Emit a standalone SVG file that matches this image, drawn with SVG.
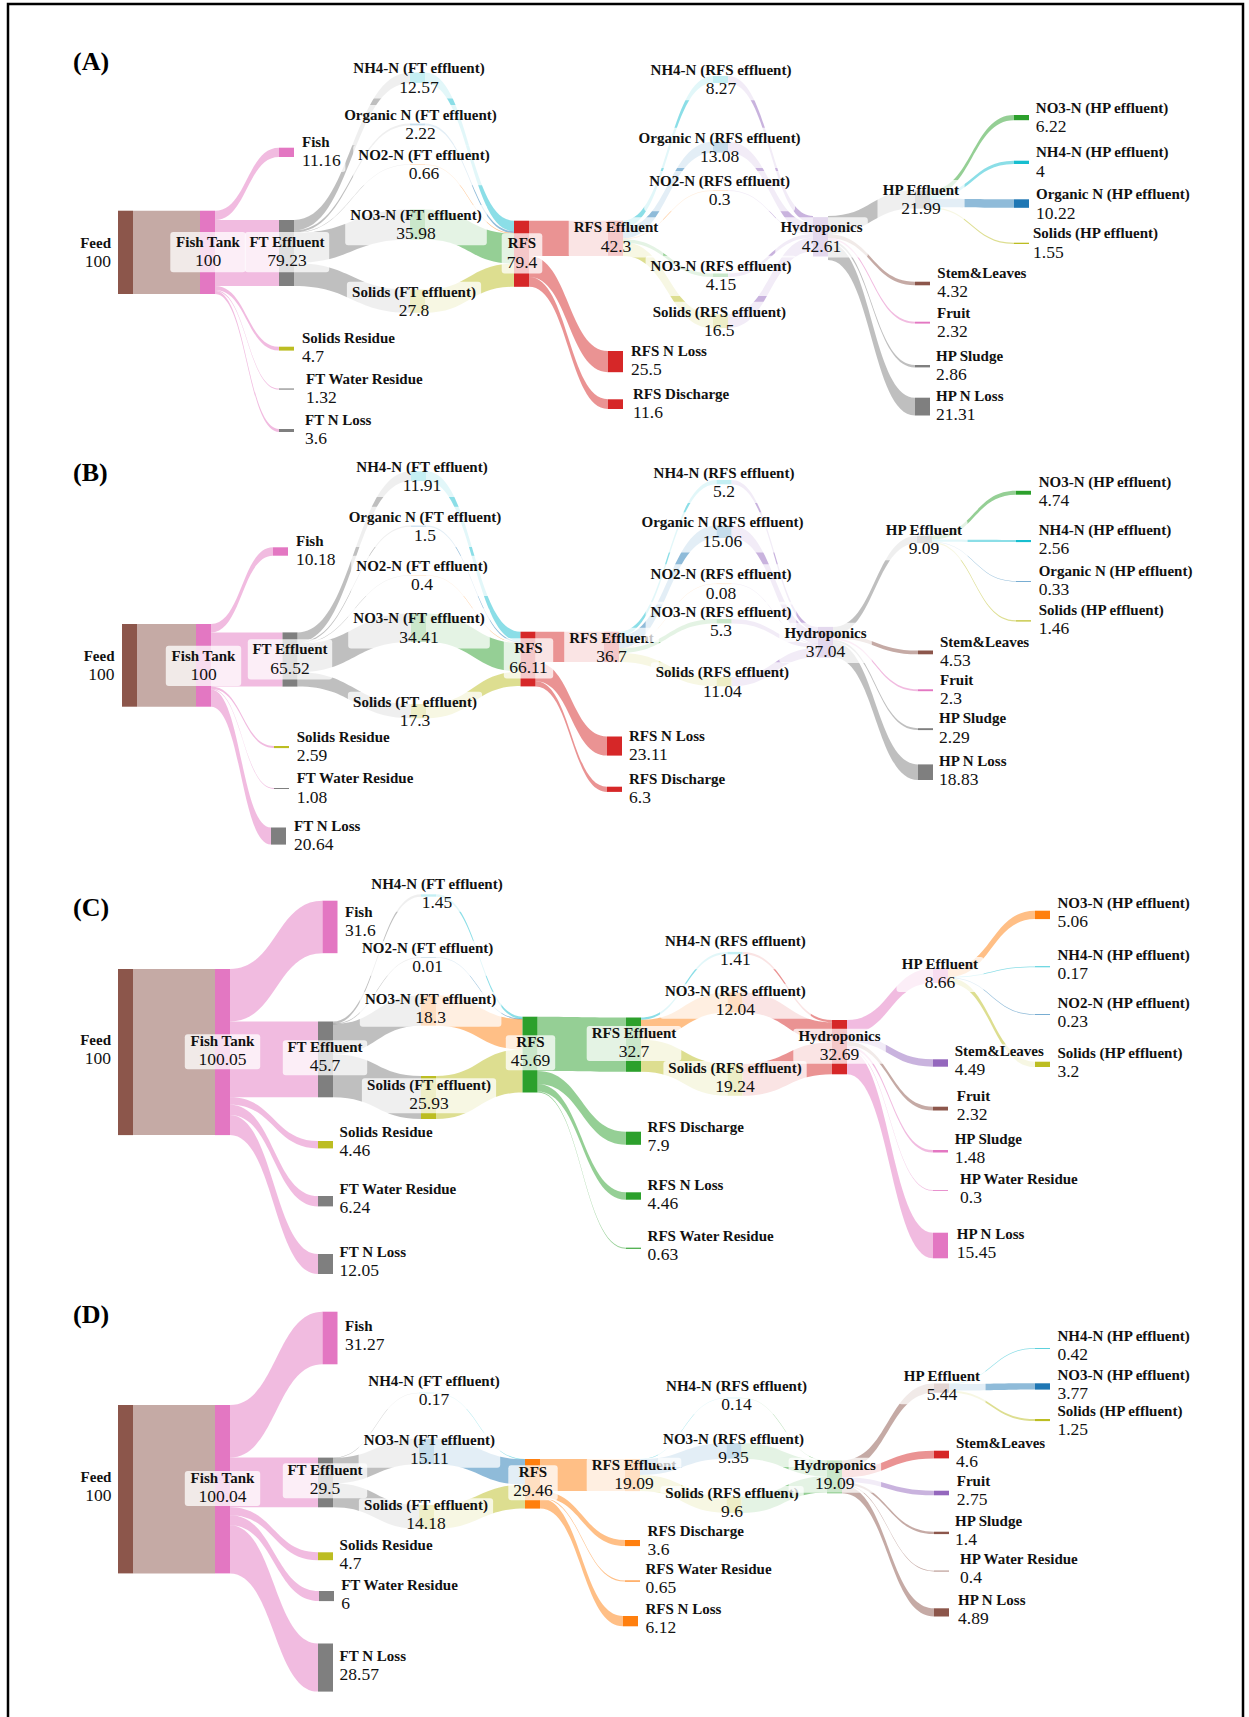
<svg xmlns="http://www.w3.org/2000/svg" width="1249" height="1717" viewBox="0 0 1249 1717">
<style>
.br{fill:#8c564b}.pk{fill:#e377c2}.gy{fill:#7f7f7f}.cy{fill:#17becf}.bl{fill:#1f77b4}.or{fill:#ff7f0e}.gn{fill:#2ca02c}.ol{fill:#bcbd22}.rd{fill:#d62728}.pu{fill:#9467bd}
.links path{fill-opacity:.5}
.bx{fill:#fff;fill-opacity:.75}
text{font-family:"Liberation Serif","Times New Roman",serif;fill:#111}
.lb{font-weight:bold;font-size:15px}
.vl{font-weight:normal;font-size:17.5px}
.m{text-anchor:middle}.e{text-anchor:end}
.pl{font-weight:bold;font-size:26px;fill:#000}
</style>
<rect x="0" y="0" width="1249" height="1717" fill="#fff"/>
<rect x="8" y="4" width="1235" height="1730" fill="none" stroke="#000" stroke-width="2.5"/>

<!-- ================= PANEL A ================= -->
<g id="panelA">
<text class="pl" x="73" y="70">(A)</text>
<g id="A-links" class="links">
<path class="br" d="M133,210.7H200V294H133Z"/>
<path class="pk" d="M215,210.7C247,210.7 247,147.7 279,147.7L279,157C247,157 247,220 215,220Z"/>
<path class="pk" d="M215,220H279V286H215Z"/>
<path class="pk" d="M215,286C247,286 247,346.7 279,346.7L279,350.6C247,350.6 247,289.9 215,289.9Z"/>
<path class="pk" d="M215,289.9C247,289.9 247,388.5 279,388.5L279,389.6C247,389.6 247,291 215,291Z"/>
<path class="pk" d="M215,291C247,291 247,429 279,429L279,432C247,432 247,294 215,294Z"/>
<path class="gy" d="M294,220C352,220 352,72.5 410,72.5L410,83C352,83 352,230.5 294,230.5Z"/>
<path class="gy" d="M294,230.5C352,230.5 352,123.6 410,123.6L410,125.4C352,125.4 352,232.4 294,232.4Z"/>
<path class="gy" d="M294,232.4C352,232.4 352,164.2 410,164.2L410,164.8C352,164.8 352,232.9 294,232.9Z"/>
<path class="gy" d="M294,232.9C352,232.9 352,209.5 410,209.5L410,239.5C352,239.5 352,262.9 294,262.9Z"/>
<path class="gy" d="M294,262.9C352,262.9 352,289.6 410,289.6L410,312.8C352,312.8 352,286 294,286Z"/>
<path class="cy" d="M425,72.5C469.5,72.5 469.5,220.7 514,220.7L514,231.2C469.5,231.2 469.5,83 425,83Z"/>
<path class="bl" d="M425,123.6C469.5,123.6 469.5,231.2 514,231.2L514,233C469.5,233 469.5,125.4 425,125.4Z"/>
<path class="or" d="M425,164.2C469.5,164.2 469.5,233 514,233L514,233.8C469.5,233.8 469.5,165 425,165Z"/>
<path class="gn" d="M425,209.5C469.5,209.5 469.5,233.6 514,233.6L514,263.6C469.5,263.6 469.5,239.5 425,239.5Z"/>
<path class="ol" d="M425,289.6C469.5,289.6 469.5,263.6 514,263.6L514,286.8C469.5,286.8 469.5,312.8 425,312.8Z"/>
<path class="rd" d="M529,220.7H608V255.9H529Z"/>
<path class="rd" d="M529,255.9C568.5,255.9 568.5,351 608,351L608,372.2C568.5,372.2 568.5,277.1 529,277.1Z"/>
<path class="rd" d="M529,277.1C568.5,277.1 568.5,399.3 608,399.3L608,409C568.5,409 568.5,286.8 529,286.8Z"/>
<path class="cy" d="M623,220.7C668,220.7 668,76 713,76L713,83C668,83 668,227.6 623,227.6Z"/>
<path class="bl" d="M623,227.6C668,227.6 668,141.8 713,141.8L713,152.7C668,152.7 668,238.5 623,238.5Z"/>
<path class="or" d="M623,238.5C668,238.5 668,190.3 713,190.3L713,191C668,191 668,239.2 623,239.2Z"/>
<path class="gn" d="M623,239.2C668,239.2 668,273.5 713,273.5L713,277C668,277 668,242.7 623,242.7Z"/>
<path class="ol" d="M623,242.2C668,242.2 668,314.3 713,314.3L713,328.1C668,328.1 668,255.9 623,255.9Z"/>
<path class="pu" d="M728,76C770.5,76 770.5,216 813,216L813,223C770.5,223 770.5,83 728,83Z"/>
<path class="pu" d="M728,141.8C770.5,141.8 770.5,223 813,223L813,233.9C770.5,233.9 770.5,152.7 728,152.7Z"/>
<path class="pu" d="M728,190.3C770.5,190.3 770.5,233.9 813,233.9L813,234.6C770.5,234.6 770.5,191 728,191Z"/>
<path class="pu" d="M728,273.5C770.5,273.5 770.5,234.2 813,234.2L813,237.7C770.5,237.7 770.5,277 728,277Z"/>
<path class="pu" d="M728,314.3C770.5,314.3 770.5,237.7 813,237.7L813,251.5C770.5,251.5 770.5,328.1 728,328.1Z"/>
<path class="gy" d="M828,216C871.5,216 871.5,190.3 915,190.3L915,208.6C871.5,208.6 871.5,234.3 828,234.3Z"/>
<path class="br" d="M828,234.3C871.5,234.3 871.5,281.7 915,281.7L915,285.3C871.5,285.3 871.5,237.9 828,237.9Z"/>
<path class="pk" d="M828,237.9C871.5,237.9 871.5,321.7 915,321.7L915,323.6C871.5,323.6 871.5,239.8 828,239.8Z"/>
<path class="gy" d="M828,239.8C871.5,239.8 871.5,365 915,365L915,367.4C871.5,367.4 871.5,242.2 828,242.2Z"/>
<path class="gy" d="M828,242.2C871.5,242.2 871.5,397.7 915,397.7L915,415.5C871.5,415.5 871.5,260 828,260Z"/>
<path class="gn" d="M930,190.3C972,190.3 972,115 1014,115L1014,120.2C972,120.2 972,195.5 930,195.5Z"/>
<path class="cy" d="M930,195.5C972,195.5 972,160.7 1014,160.7L1014,164C972,164 972,198.8 930,198.8Z"/>
<path class="bl" d="M930,198.8C972,198.8 972,199.3 1014,199.3L1014,207.8C972,207.8 972,207.3 930,207.3Z"/>
<path class="ol" d="M930,207.3C972,207.3 972,242.7 1014,242.7L1014,244C972,244 972,208.6 930,208.6Z"/>
</g>
<g id="A-feed"><rect class="br" x="118" y="210.7" width="15" height="83.3"/><rect class="bx" x="76.2" y="232.5" width="38.8" height="40.2" rx="3"/><text class="e" x="111" y="247.5"><tspan class="lb">Feed</tspan><tspan class="vl" x="111" y="266.7">100</tspan></text></g>
<g id="A-fishtank"><rect class="pk" x="200" y="210.7" width="15" height="83.3"/><rect class="bx" x="170.3" y="232" width="75.4" height="40.2" rx="3"/><text class="m" x="208" y="247"><tspan class="lb">Fish Tank</tspan><tspan class="vl" x="208" y="266.2">100</tspan></text></g>
<g id="A-fish"><rect class="pk" x="279" y="147.7" width="15" height="9.3"/><rect class="bx" x="298" y="131.7" width="47.4" height="40.2" rx="3"/><text x="302" y="146.7"><tspan class="lb">Fish</tspan><tspan class="vl" x="302" y="165.9">11.16</tspan></text></g>
<g id="A-fteff"><rect class="gy" x="279" y="220" width="15" height="66"/><rect class="bx" x="244.8" y="232" width="84.4" height="40.2" rx="3"/><text class="m" x="287" y="247"><tspan class="lb">FT Effluent</tspan><tspan class="vl" x="287" y="266.2">79.23</tspan></text></g>
<g id="A-solres"><rect class="ol" x="279" y="346.7" width="15" height="3.9"/><rect class="bx" x="298" y="327.7" width="100.9" height="40.2" rx="3"/><text x="302" y="342.7"><tspan class="lb">Solids Residue</tspan><tspan class="vl" x="302" y="361.9">4.7</tspan></text></g>
<g id="A-ftwater"><rect class="gy" x="279" y="388.5" width="15" height="1.1"/><rect class="bx" x="302" y="369" width="126.3" height="40.2" rx="3"/><text x="306" y="384"><tspan class="lb">FT Water Residue</tspan><tspan class="vl" x="306" y="403.2">1.32</tspan></text></g>
<g id="A-ftnloss"><rect class="gy" x="279" y="429" width="15" height="3"/><rect class="bx" x="301" y="410" width="74.7" height="40.2" rx="3"/><text x="305" y="425"><tspan class="lb">FT N Loss</tspan><tspan class="vl" x="305" y="444.2">3.6</tspan></text></g>
<g id="A-nh4ft"><rect class="cy" x="410" y="72.5" width="15" height="10.5"/><rect class="bx" x="348.2" y="58.3" width="141.6" height="40.2" rx="3"/><text class="m" x="419" y="73.3"><tspan class="lb">NH4-N (FT effluent)</tspan><tspan class="vl" x="419" y="92.5">12.57</tspan></text></g>
<g id="A-orgft"><rect class="bl" x="410" y="123.6" width="15" height="1.8"/><rect class="bx" x="339" y="105" width="162.9" height="40.2" rx="3"/><text class="m" x="420.5" y="120"><tspan class="lb">Organic N (FT effluent)</tspan><tspan class="vl" x="420.5" y="139.2">2.22</tspan></text></g>
<g id="A-no2ft"><rect class="or" x="410" y="164.2" width="15" height="0.8"/><rect class="bx" x="353.2" y="145" width="141.6" height="40.2" rx="3"/><text class="m" x="424" y="160"><tspan class="lb">NO2-N (FT effluent)</tspan><tspan class="vl" x="424" y="179.2">0.66</tspan></text></g>
<g id="A-no3ft"><rect class="gn" x="410" y="209.5" width="15" height="30"/><rect class="bx" x="345.2" y="205" width="141.6" height="40.2" rx="3"/><text class="m" x="416" y="220"><tspan class="lb">NO3-N (FT effluent)</tspan><tspan class="vl" x="416" y="239.2">35.98</tspan></text></g>
<g id="A-solft"><rect class="ol" x="410" y="289.6" width="15" height="23.2"/><rect class="bx" x="346.9" y="281.7" width="134.2" height="40.2" rx="3"/><text class="m" x="414" y="296.7"><tspan class="lb">Solids (FT effluent)</tspan><tspan class="vl" x="414" y="315.9">27.8</tspan></text></g>
<g id="A-rfs"><rect class="rd" x="514" y="220.7" width="15" height="66.1"/><rect class="bx" x="501.7" y="233.3" width="40.6" height="40.2" rx="3"/><text class="m" x="522" y="248.3"><tspan class="lb">RFS</tspan><tspan class="vl" x="522" y="267.5">79.4</tspan></text></g>
<g id="A-rfseff"><rect class="rd" x="608" y="220.7" width="15" height="35.2"/><rect class="bx" x="568.7" y="217.3" width="94.6" height="40.2" rx="3"/><text class="m" x="616" y="232.3"><tspan class="lb">RFS Effluent</tspan><tspan class="vl" x="616" y="251.5">42.3</tspan></text></g>
<g id="A-rfsnloss"><rect class="rd" x="608" y="351" width="15" height="21.2"/><rect class="bx" x="627" y="341" width="83.8" height="40.2" rx="3"/><text x="631" y="356"><tspan class="lb">RFS N Loss</tspan><tspan class="vl" x="631" y="375.2">25.5</tspan></text></g>
<g id="A-rfsdis"><rect class="rd" x="608" y="399.3" width="15" height="9.7"/><rect class="bx" x="629" y="384" width="104.2" height="40.2" rx="3"/><text x="633" y="399"><tspan class="lb">RFS Discharge</tspan><tspan class="vl" x="633" y="418.2">11.6</tspan></text></g>
<g id="A-nh4rfs"><rect class="cy" x="713" y="76" width="15" height="7"/><rect class="bx" x="645.6" y="60" width="150.8" height="40.2" rx="3"/><text class="m" x="721" y="75"><tspan class="lb">NH4-N (RFS effluent)</tspan><tspan class="vl" x="721" y="94.2">8.27</tspan></text></g>
<g id="A-orgrfs"><rect class="bl" x="713" y="141.8" width="15" height="10.9"/><rect class="bx" x="633.6" y="127.7" width="172" height="40.2" rx="3"/><text class="m" x="719.6" y="142.7"><tspan class="lb">Organic N (RFS effluent)</tspan><tspan class="vl" x="719.6" y="161.9">13.08</tspan></text></g>
<g id="A-no2rfs"><rect class="or" x="713" y="190.3" width="15" height="0.7"/><rect class="bx" x="644.2" y="171" width="150.8" height="40.2" rx="3"/><text class="m" x="719.6" y="186"><tspan class="lb">NO2-N (RFS effluent)</tspan><tspan class="vl" x="719.6" y="205.2">0.3</tspan></text></g>
<g id="A-no3rfs"><rect class="gn" x="713" y="273.5" width="15" height="3.5"/><rect class="bx" x="645.6" y="255.7" width="150.8" height="40.2" rx="3"/><text class="m" x="721" y="270.7"><tspan class="lb">NO3-N (RFS effluent)</tspan><tspan class="vl" x="721" y="289.9">4.15</tspan></text></g>
<g id="A-solrfs"><rect class="ol" x="713" y="314.3" width="15" height="13.8"/><rect class="bx" x="647.7" y="301.7" width="143.3" height="40.2" rx="3"/><text class="m" x="719.3" y="316.7"><tspan class="lb">Solids (RFS effluent)</tspan><tspan class="vl" x="719.3" y="335.9">16.5</tspan></text></g>
<g id="A-hydro"><rect class="pu" x="813" y="217.5" width="15" height="39"/><rect class="bx" x="775.3" y="217.3" width="92.5" height="40.2" rx="3"/><text class="m" x="821.5" y="232.3"><tspan class="lb">Hydroponics</tspan><tspan class="vl" x="821.5" y="251.5">42.61</tspan></text></g>
<g id="A-hpeff"><rect class="gy" x="915" y="190.3" width="15" height="18.3"/><rect class="bx" x="877.5" y="180" width="87.1" height="40.2" rx="3"/><text class="m" x="921" y="195"><tspan class="lb">HP Effluent</tspan><tspan class="vl" x="921" y="214.2">21.99</tspan></text></g>
<g id="A-stem"><rect class="br" x="915" y="281.7" width="15" height="3.6"/><rect class="bx" x="933.3" y="262.7" width="103.1" height="40.2" rx="3"/><text x="937.3" y="277.7"><tspan class="lb">Stem&amp;Leaves</tspan><tspan class="vl" x="937.3" y="296.9">4.32</tspan></text></g>
<g id="A-fruit"><rect class="pk" x="915" y="321.7" width="15" height="1.9"/><rect class="bx" x="933" y="302.7" width="41.3" height="40.2" rx="3"/><text x="937" y="317.7"><tspan class="lb">Fruit</tspan><tspan class="vl" x="937" y="336.9">2.32</tspan></text></g>
<g id="A-sludge"><rect class="gy" x="915" y="365" width="15" height="2.4"/><rect class="bx" x="932" y="346" width="75.9" height="40.2" rx="3"/><text x="936" y="361"><tspan class="lb">HP Sludge</tspan><tspan class="vl" x="936" y="380.2">2.86</tspan></text></g>
<g id="A-hpnloss"><rect class="gy" x="915" y="397.7" width="15" height="17.8"/><rect class="bx" x="932" y="386" width="76.3" height="40.2" rx="3"/><text x="936" y="401"><tspan class="lb">HP N Loss</tspan><tspan class="vl" x="936" y="420.2">21.31</tspan></text></g>
<g id="A-no3hp"><rect class="gn" x="1014" y="115" width="15" height="5.2"/><rect class="bx" x="1031.8" y="97.7" width="141.3" height="40.2" rx="3"/><text x="1035.8" y="112.7"><tspan class="lb">NO3-N (HP effluent)</tspan><tspan class="vl" x="1035.8" y="131.9">6.22</tspan></text></g>
<g id="A-nh4hp"><rect class="cy" x="1014" y="160.7" width="15" height="3.3"/><rect class="bx" x="1032" y="142.3" width="141.3" height="40.2" rx="3"/><text x="1036" y="157.3"><tspan class="lb">NH4-N (HP effluent)</tspan><tspan class="vl" x="1036" y="176.5">4</tspan></text></g>
<g id="A-orghp"><rect class="bl" x="1014" y="199.3" width="15" height="8.5"/><rect class="bx" x="1032" y="184.3" width="162.6" height="40.2" rx="3"/><text x="1036" y="199.3"><tspan class="lb">Organic N (HP effluent)</tspan><tspan class="vl" x="1036" y="218.5">10.22</tspan></text></g>
<g id="A-solhp"><rect class="ol" x="1014" y="242.7" width="15" height="1.3"/><rect class="bx" x="1029" y="223.3" width="133.8" height="40.2" rx="3"/><text x="1033" y="238.3"><tspan class="lb">Solids (HP effluent)</tspan><tspan class="vl" x="1033" y="257.5">1.55</tspan></text></g>
</g>

<!-- ================= PANEL B ================= -->
<g id="panelB">
<text class="pl" x="73" y="481">(B)</text>
<g id="B-links" class="links">
<path class="br" d="M137,624H196V706.7H137Z"/>
<path class="pk" d="M211,624C242,624 242,547.3 273,547.3L273,555.7C242,555.7 242,632.4 211,632.4Z"/>
<path class="pk" d="M211,632.4H282.5V686.6H211Z"/>
<path class="pk" d="M211,686.6C242.5,686.6 242.5,746 274,746L274,748.1C242.5,748.1 242.5,688.7 211,688.7Z"/>
<path class="pk" d="M211,688.7C242.5,688.7 242.5,788 274,788L274,788.9C242.5,788.9 242.5,689.6 211,689.6Z"/>
<path class="pk" d="M211,689.6C241,689.6 241,827.5 271,827.5L271,844.6C241,844.6 241,706.7 211,706.7Z"/>
<path class="gy" d="M297.5,632.4C354.3,632.4 354.3,471.3 411,471.3L411,481.1C354.3,481.1 354.3,642.3 297.5,642.3Z"/>
<path class="gy" d="M297.5,642.3C354.3,642.3 354.3,525.6 411,525.6L411,526.8C354.3,526.8 354.3,643.5 297.5,643.5Z"/>
<path class="gy" d="M297.5,643.5C354.3,643.5 354.3,575 411,575L411,575.6C354.3,575.6 354.3,644.1 297.5,644.1Z"/>
<path class="gy" d="M297.5,643.8C354.3,643.8 354.3,613.6 411,613.6L411,642C354.3,642 354.3,672.3 297.5,672.3Z"/>
<path class="gy" d="M297.5,672.3C354.3,672.3 354.3,704 411,704L411,718.3C354.3,718.3 354.3,686.6 297.5,686.6Z"/>
<path class="cy" d="M426,471.3C473.3,471.3 473.3,631.7 520.5,631.7L520.5,641.6C473.3,641.6 473.3,481.1 426,481.1Z"/>
<path class="bl" d="M426,525.6C473.3,525.6 473.3,641.6 520.5,641.6L520.5,642.8C473.3,642.8 473.3,526.8 426,526.8Z"/>
<path class="or" d="M426,575C473.3,575 473.3,642.8 520.5,642.8L520.5,643.4C473.3,643.4 473.3,575.6 426,575.6Z"/>
<path class="gn" d="M426,613.6C473.3,613.6 473.3,643.1 520.5,643.1L520.5,671.6C473.3,671.6 473.3,642 426,642Z"/>
<path class="ol" d="M426,704C473.3,704 473.3,671.6 520.5,671.6L520.5,685.9C473.3,685.9 473.3,718.3 426,718.3Z"/>
<path class="rd" d="M535.5,631.7H604V662.1H535.5Z"/>
<path class="rd" d="M535.5,662.1C571.3,662.1 571.3,736.5 607,736.5L607,755.6C571.3,755.6 571.3,681.2 535.5,681.2Z"/>
<path class="rd" d="M535.5,681.2C571.3,681.2 571.3,786.7 607,786.7L607,791.9C571.3,791.9 571.3,686.4 535.5,686.4Z"/>
<path class="cy" d="M619,631.7C667.8,631.7 667.8,480 716.5,480L716.5,484.3C667.8,484.3 667.8,636 619,636Z"/>
<path class="bl" d="M619,636C667.8,636 667.8,525.6 716.5,525.6L716.5,538C667.8,538 667.8,648.5 619,648.5Z"/>
<path class="or" d="M619,648.3C667.8,648.3 667.8,583.5 716.5,583.5L716.5,584.1C667.8,584.1 667.8,648.9 619,648.9Z"/>
<path class="gn" d="M619,648.5C667.8,648.5 667.8,619 716.5,619L716.5,623.4C667.8,623.4 667.8,652.9 619,652.9Z"/>
<path class="ol" d="M619,652.9C667.8,652.9 667.8,677.2 716.5,677.2L716.5,686.3C667.8,686.3 667.8,662.1 619,662.1Z"/>
<path class="pu" d="M731.5,480C774.8,480 774.8,626.9 818,626.9L818,631.2C774.8,631.2 774.8,484.3 731.5,484.3Z"/>
<path class="pu" d="M731.5,525.6C774.8,525.6 774.8,631.2 818,631.2L818,643.7C774.8,643.7 774.8,538 731.5,538Z"/>
<path class="pu" d="M731.5,583.5C774.8,583.5 774.8,643.5 818,643.5L818,644.1C774.8,644.1 774.8,584.1 731.5,584.1Z"/>
<path class="pu" d="M731.5,619C774.8,619 774.8,643.8 818,643.8L818,648.1C774.8,648.1 774.8,623.4 731.5,623.4Z"/>
<path class="pu" d="M731.5,677.2C774.8,677.2 774.8,648.1 818,648.1L818,657.3C774.8,657.3 774.8,686.3 731.5,686.3Z"/>
<path class="gy" d="M833,626.9C875,626.9 875,535.7 917,535.7L917,543.2C875,543.2 875,634.4 833,634.4Z"/>
<path class="br" d="M833,634.4C875.5,634.4 875.5,650.5 918,650.5L918,654.3C875.5,654.3 875.5,638.2 833,638.2Z"/>
<path class="pk" d="M833,638.2C875.5,638.2 875.5,689.3 918,689.3L918,691.2C875.5,691.2 875.5,640.1 833,640.1Z"/>
<path class="gy" d="M833,640.1C875.5,640.1 875.5,728.2 918,728.2L918,730.1C875.5,730.1 875.5,642 833,642Z"/>
<path class="gy" d="M833,642C875.5,642 875.5,764.4 918,764.4L918,780C875.5,780 875.5,657.5 833,657.5Z"/>
<path class="gn" d="M932,535.7C974,535.7 974,490.8 1016,490.8L1016,494.7C974,494.7 974,539.6 932,539.6Z"/>
<path class="cy" d="M932,539.6C974,539.6 974,540 1016,540L1016,542.1C974,542.1 974,541.7 932,541.7Z"/>
<path class="bl" d="M932,541.7C974,541.7 974,581 1016,581L1016,581.6C974,581.6 974,542.3 932,542.3Z"/>
<path class="ol" d="M932,542C974,542 974,620.3 1016,620.3L1016,621.5C974,621.5 974,543.2 932,543.2Z"/>
</g>
<g id="B-feed"><rect class="br" x="122" y="624" width="15" height="82.7"/><rect class="bx" x="79.7" y="645.7" width="38.8" height="40.2" rx="3"/><text class="e" x="114.5" y="660.7"><tspan class="lb">Feed</tspan><tspan class="vl" x="114.5" y="679.9">100</tspan></text></g>
<g id="B-fishtank"><rect class="pk" x="196" y="624" width="15" height="82.7"/><rect class="bx" x="165.8" y="645.7" width="75.4" height="40.2" rx="3"/><text class="m" x="203.5" y="660.7"><tspan class="lb">Fish Tank</tspan><tspan class="vl" x="203.5" y="679.9">100</tspan></text></g>
<g id="B-fish"><rect class="pk" x="273" y="547.3" width="15" height="8.4"/><rect class="bx" x="292" y="531" width="47.4" height="40.2" rx="3"/><text x="296" y="546"><tspan class="lb">Fish</tspan><tspan class="vl" x="296" y="565.2">10.18</tspan></text></g>
<g id="B-fteff"><rect class="gy" x="282.5" y="632.4" width="15" height="54.2"/><rect class="bx" x="247.8" y="639.3" width="84.4" height="40.2" rx="3"/><text class="m" x="290" y="654.3"><tspan class="lb">FT Effluent</tspan><tspan class="vl" x="290" y="673.5">65.52</tspan></text></g>
<g id="B-solres"><rect class="ol" x="274" y="746" width="15" height="2.1"/><rect class="bx" x="292.7" y="726.7" width="100.9" height="40.2" rx="3"/><text x="296.7" y="741.7"><tspan class="lb">Solids Residue</tspan><tspan class="vl" x="296.7" y="760.9">2.59</tspan></text></g>
<g id="B-ftwater"><rect class="gy" x="274" y="788" width="15" height="1"/><rect class="bx" x="292.7" y="768.3" width="126.3" height="40.2" rx="3"/><text x="296.7" y="783.3"><tspan class="lb">FT Water Residue</tspan><tspan class="vl" x="296.7" y="802.5">1.08</tspan></text></g>
<g id="B-ftnloss"><rect class="gy" x="271" y="827.5" width="15" height="17.1"/><rect class="bx" x="290" y="816" width="74.7" height="40.2" rx="3"/><text x="294" y="831"><tspan class="lb">FT N Loss</tspan><tspan class="vl" x="294" y="850.2">20.64</tspan></text></g>
<g id="B-nh4ft"><rect class="cy" x="411" y="471.3" width="15" height="9.8"/><rect class="bx" x="351.2" y="456.7" width="141.6" height="40.2" rx="3"/><text class="m" x="422" y="471.7"><tspan class="lb">NH4-N (FT effluent)</tspan><tspan class="vl" x="422" y="490.9">11.91</tspan></text></g>
<g id="B-orgft"><rect class="bl" x="411" y="525.6" width="15" height="1.2"/><rect class="bx" x="343.5" y="506.7" width="162.9" height="40.2" rx="3"/><text class="m" x="425" y="521.7"><tspan class="lb">Organic N (FT effluent)</tspan><tspan class="vl" x="425" y="540.9">1.5</tspan></text></g>
<g id="B-no2ft"><rect class="or" x="411" y="575" width="15" height="0.6"/><rect class="bx" x="351.2" y="555.7" width="141.6" height="40.2" rx="3"/><text class="m" x="422" y="570.7"><tspan class="lb">NO2-N (FT effluent)</tspan><tspan class="vl" x="422" y="589.9">0.4</tspan></text></g>
<g id="B-no3ft"><rect class="gn" x="411" y="613.6" width="15" height="28.4"/><rect class="bx" x="348.2" y="608.3" width="141.6" height="40.2" rx="3"/><text class="m" x="419" y="623.3"><tspan class="lb">NO3-N (FT effluent)</tspan><tspan class="vl" x="419" y="642.5">34.41</tspan></text></g>
<g id="B-solft"><rect class="ol" x="411" y="704" width="15" height="14.3"/><rect class="bx" x="347.9" y="691.7" width="134.2" height="40.2" rx="3"/><text class="m" x="415" y="706.7"><tspan class="lb">Solids (FT effluent)</tspan><tspan class="vl" x="415" y="725.9">17.3</tspan></text></g>
<g id="B-rfs"><rect class="rd" x="520.5" y="631.7" width="15" height="54.7"/><rect class="bx" x="503.8" y="638.3" width="49.4" height="40.2" rx="3"/><text class="m" x="528.5" y="653.3"><tspan class="lb">RFS</tspan><tspan class="vl" x="528.5" y="672.5">66.11</tspan></text></g>
<g id="B-rfseff"><rect class="rd" x="604" y="631.7" width="15" height="30.4"/><rect class="bx" x="564.2" y="627.7" width="94.6" height="40.2" rx="3"/><text class="m" x="611.5" y="642.7"><tspan class="lb">RFS Effluent</tspan><tspan class="vl" x="611.5" y="661.9">36.7</tspan></text></g>
<g id="B-rfsnloss"><rect class="rd" x="607" y="736.5" width="15" height="19.1"/><rect class="bx" x="625" y="725.7" width="83.8" height="40.2" rx="3"/><text x="629" y="740.7"><tspan class="lb">RFS N Loss</tspan><tspan class="vl" x="629" y="759.9">23.11</tspan></text></g>
<g id="B-rfsdis"><rect class="rd" x="607" y="786.7" width="15" height="5.2"/><rect class="bx" x="625" y="769" width="104.2" height="40.2" rx="3"/><text x="629" y="784"><tspan class="lb">RFS Discharge</tspan><tspan class="vl" x="629" y="803.2">6.3</tspan></text></g>
<g id="B-nh4rfs"><rect class="cy" x="716.5" y="480" width="15" height="4.3"/><rect class="bx" x="648.6" y="462.7" width="150.8" height="40.2" rx="3"/><text class="m" x="724" y="477.7"><tspan class="lb">NH4-N (RFS effluent)</tspan><tspan class="vl" x="724" y="496.9">5.2</tspan></text></g>
<g id="B-orgrfs"><rect class="bl" x="716.5" y="525.6" width="15" height="12.4"/><rect class="bx" x="636.5" y="512.3" width="172" height="40.2" rx="3"/><text class="m" x="722.5" y="527.3"><tspan class="lb">Organic N (RFS effluent)</tspan><tspan class="vl" x="722.5" y="546.5">15.06</tspan></text></g>
<g id="B-no2rfs"><rect class="or" x="716.5" y="583.5" width="15" height="0.6"/><rect class="bx" x="645.6" y="564.3" width="150.8" height="40.2" rx="3"/><text class="m" x="721" y="579.3"><tspan class="lb">NO2-N (RFS effluent)</tspan><tspan class="vl" x="721" y="598.5">0.08</tspan></text></g>
<g id="B-no3rfs"><rect class="gn" x="716.5" y="619" width="15" height="4.4"/><rect class="bx" x="645.6" y="601.7" width="150.8" height="40.2" rx="3"/><text class="m" x="721" y="616.7"><tspan class="lb">NO3-N (RFS effluent)</tspan><tspan class="vl" x="721" y="635.9">5.3</tspan></text></g>
<g id="B-solrfs"><rect class="ol" x="716.5" y="677.2" width="15" height="9.1"/><rect class="bx" x="650.8" y="662.3" width="143.3" height="40.2" rx="3"/><text class="m" x="722.4" y="677.3"><tspan class="lb">Solids (RFS effluent)</tspan><tspan class="vl" x="722.4" y="696.5">11.04</tspan></text></g>
<g id="B-hydro"><rect class="pu" x="818" y="626.9" width="15" height="30.6"/><rect class="bx" x="779.3" y="622.7" width="92.5" height="40.2" rx="3"/><text class="m" x="825.5" y="637.7"><tspan class="lb">Hydroponics</tspan><tspan class="vl" x="825.5" y="656.9">37.04</tspan></text></g>
<g id="B-hpeff"><rect class="gy" x="917" y="535.7" width="15" height="7.5"/><rect class="bx" x="880.5" y="520" width="87.1" height="40.2" rx="3"/><text class="m" x="924" y="535"><tspan class="lb">HP Effluent</tspan><tspan class="vl" x="924" y="554.2">9.09</tspan></text></g>
<g id="B-stem"><rect class="br" x="918" y="650.5" width="15" height="3.8"/><rect class="bx" x="936" y="631.7" width="103.1" height="40.2" rx="3"/><text x="940" y="646.7"><tspan class="lb">Stem&amp;Leaves</tspan><tspan class="vl" x="940" y="665.9">4.53</tspan></text></g>
<g id="B-fruit"><rect class="pk" x="918" y="689.3" width="15" height="1.9"/><rect class="bx" x="936" y="670" width="41.3" height="40.2" rx="3"/><text x="940" y="685"><tspan class="lb">Fruit</tspan><tspan class="vl" x="940" y="704.2">2.3</tspan></text></g>
<g id="B-sludge"><rect class="gy" x="918" y="728.2" width="15" height="1.9"/><rect class="bx" x="935" y="708.3" width="75.9" height="40.2" rx="3"/><text x="939" y="723.3"><tspan class="lb">HP Sludge</tspan><tspan class="vl" x="939" y="742.5">2.29</tspan></text></g>
<g id="B-hpnloss"><rect class="gy" x="918" y="764.4" width="15" height="15.6"/><rect class="bx" x="935" y="750.7" width="76.3" height="40.2" rx="3"/><text x="939" y="765.7"><tspan class="lb">HP N Loss</tspan><tspan class="vl" x="939" y="784.9">18.83</tspan></text></g>
<g id="B-no3hp"><rect class="gn" x="1016" y="490.8" width="15" height="3.9"/><rect class="bx" x="1034.7" y="471.7" width="141.3" height="40.2" rx="3"/><text x="1038.7" y="486.7"><tspan class="lb">NO3-N (HP effluent)</tspan><tspan class="vl" x="1038.7" y="505.9">4.74</tspan></text></g>
<g id="B-nh4hp"><rect class="cy" x="1016" y="540" width="15" height="2.1"/><rect class="bx" x="1034.7" y="520" width="141.3" height="40.2" rx="3"/><text x="1038.7" y="535"><tspan class="lb">NH4-N (HP effluent)</tspan><tspan class="vl" x="1038.7" y="554.2">2.56</tspan></text></g>
<g id="B-orghp"><rect class="bl" x="1016" y="581" width="15" height="0.6"/><rect class="bx" x="1034.7" y="560.7" width="162.6" height="40.2" rx="3"/><text x="1038.7" y="575.7"><tspan class="lb">Organic N (HP effluent)</tspan><tspan class="vl" x="1038.7" y="594.9">0.33</tspan></text></g>
<g id="B-solhp"><rect class="ol" x="1016" y="620.3" width="15" height="1.2"/><rect class="bx" x="1034.7" y="600" width="133.8" height="40.2" rx="3"/><text x="1038.7" y="615"><tspan class="lb">Solids (HP effluent)</tspan><tspan class="vl" x="1038.7" y="634.2">1.46</tspan></text></g>
</g>

<!-- ================= PANEL C ================= -->
<g id="panelC">
<text class="pl" x="73" y="916">(C)</text>
<g id="C-links" class="links">
<path class="br" d="M133,969H215V1135.1H133Z"/>
<path class="pk" d="M230,969C276.3,969 276.3,900.7 322.5,900.7L322.5,953.2C276.3,953.2 276.3,1021.5 230,1021.5Z"/>
<path class="pk" d="M230,1021.5H318V1097.3H230Z"/>
<path class="pk" d="M230,1097.3C274,1097.3 274,1141 318,1141L318,1148.4C274,1148.4 274,1104.7 230,1104.7Z"/>
<path class="pk" d="M230,1104.7C274,1104.7 274,1196 318,1196L318,1206.4C274,1206.4 274,1115.1 230,1115.1Z"/>
<path class="pk" d="M230,1115.1C274,1115.1 274,1254 318,1254L318,1274C274,1274 274,1135.1 230,1135.1Z"/>
<path class="gy" d="M333,1021.5C377,1021.5 377,894.3 421,894.3L421,896.7C377,896.7 377,1023.9 333,1023.9Z"/>
<path class="gy" d="M333,1023.6C377,1023.6 377,957 421,957L421,957.8C377,957.8 377,1024.4 333,1024.4Z"/>
<path class="gy" d="M333,1023.9C377,1023.9 377,995.3 421,995.3L421,1025.7C377,1025.7 377,1054.3 333,1054.3Z"/>
<path class="gy" d="M333,1054.3C377,1054.3 377,1076 421,1076L421,1119C377,1119 377,1097.3 333,1097.3Z"/>
<path class="cy" d="M436,894.3C479.3,894.3 479.3,1016.7 522.5,1016.7L522.5,1019.1C479.3,1019.1 479.3,896.7 436,896.7Z"/>
<path class="bl" d="M436,957C479.3,957 479.3,1018.8 522.5,1018.8L522.5,1019.6C479.3,1019.6 479.3,957.8 436,957.8Z"/>
<path class="or" d="M436,995.3C479.3,995.3 479.3,1019.1 522.5,1019.1L522.5,1049.5C479.3,1049.5 479.3,1025.7 436,1025.7Z"/>
<path class="ol" d="M436,1076C479.3,1076 479.3,1049.5 522.5,1049.5L522.5,1092.5C479.3,1092.5 479.3,1119 436,1119Z"/>
<path class="gn" d="M537.5,1016.7C581.8,1016.7 581.8,1017.5 626,1017.5L626,1071.8C581.8,1071.8 581.8,1071 537.5,1071Z"/>
<path class="gn" d="M537.5,1071C581.8,1071 581.8,1131.7 626,1131.7L626,1144.8C581.8,1144.8 581.8,1084.1 537.5,1084.1Z"/>
<path class="gn" d="M537.5,1084.1C581.8,1084.1 581.8,1192.3 626,1192.3L626,1199.7C581.8,1199.7 581.8,1091.5 537.5,1091.5Z"/>
<path class="gn" d="M537.5,1091.5C581.8,1091.5 581.8,1247.7 626,1247.7L626,1248.8C581.8,1248.8 581.8,1092.6 537.5,1092.6Z"/>
<path class="cy" d="M641,1017.5C684.3,1017.5 684.3,951.9 727.5,951.9L727.5,954.3C684.3,954.3 684.3,1019.8 641,1019.8Z"/>
<path class="or" d="M641,1019.8C684.3,1019.8 684.3,992.5 727.5,992.5L727.5,1012.5C684.3,1012.5 684.3,1039.8 641,1039.8Z"/>
<path class="ol" d="M641,1039.8C684.3,1039.8 684.3,1063.9 727.5,1063.9L727.5,1095.8C684.3,1095.8 684.3,1071.8 641,1071.8Z"/>
<path class="rd" d="M742.5,951.9C787.3,951.9 787.3,1020 832,1020L832,1022.3C787.3,1022.3 787.3,954.3 742.5,954.3Z"/>
<path class="rd" d="M742.5,992.5C787.3,992.5 787.3,1022.3 832,1022.3L832,1042.3C787.3,1042.3 787.3,1012.5 742.5,1012.5Z"/>
<path class="rd" d="M742.5,1063.9C787.3,1063.9 787.3,1042.3 832,1042.3L832,1074.2C787.3,1074.2 787.3,1095.8 742.5,1095.8Z"/>
<path class="pk" d="M847,1020C890,1020 890,968.6 933,968.6L933,983C890,983 890,1034.4 847,1034.4Z"/>
<path class="pu" d="M847,1034.4C890,1034.4 890,1059.3 933,1059.3L933,1066.7C890,1066.7 890,1041.8 847,1041.8Z"/>
<path class="br" d="M847,1041.8C890,1041.8 890,1106.7 933,1106.7L933,1110.5C890,1110.5 890,1045.7 847,1045.7Z"/>
<path class="pk" d="M847,1045.7C890,1045.7 890,1150 933,1150L933,1152.5C890,1152.5 890,1048.2 847,1048.2Z"/>
<path class="pk" d="M847,1048.2C890,1048.2 890,1190 933,1190L933,1190.8C890,1190.8 890,1049 847,1049Z"/>
<path class="pk" d="M847,1048.7C890,1048.7 890,1232.7 933,1232.7L933,1258.3C890,1258.3 890,1074.3 847,1074.3Z"/>
<path class="or" d="M948,968.6C991.5,968.6 991.5,910.7 1035,910.7L1035,919.1C991.5,919.1 991.5,977 948,977Z"/>
<path class="cy" d="M948,977C991.5,977 991.5,966.4 1035,966.4L1035,967.2C991.5,967.2 991.5,977.8 948,977.8Z"/>
<path class="bl" d="M948,977.3C991.5,977.3 991.5,1014.2 1035,1014.2L1035,1014.8C991.5,1014.8 991.5,977.9 948,977.9Z"/>
<path class="ol" d="M948,977.7C991.5,977.7 991.5,1061.7 1035,1061.7L1035,1067C991.5,1067 991.5,983 948,983Z"/>
</g>
<g id="C-feed"><rect class="br" x="118" y="969" width="15" height="166.1"/><rect class="bx" x="76.2" y="1032.7" width="38.8" height="35" rx="3"/><text class="e" x="111" y="1044.7"><tspan class="lb">Feed</tspan><tspan class="vl" x="111" y="1063.7">100</tspan></text></g>
<g id="C-fishtank"><rect class="pk" x="215" y="969" width="15" height="166.1"/><rect class="bx" x="184.8" y="1034.3" width="75.4" height="35" rx="3"/><text class="m" x="222.5" y="1046.3"><tspan class="lb">Fish Tank</tspan><tspan class="vl" x="222.5" y="1065.3">100.05</tspan></text></g>
<g id="C-fteff"><rect class="gy" x="318" y="1021.5" width="15" height="75.8"/><rect class="bx" x="282.8" y="1040.3" width="84.4" height="35" rx="3"/><text class="m" x="325" y="1052.3"><tspan class="lb">FT Effluent</tspan><tspan class="vl" x="325" y="1071.3">45.7</tspan></text></g>
<g id="C-solres"><rect class="ol" x="318" y="1141" width="15" height="7.4"/><rect class="bx" x="335.6" y="1125.3" width="100.9" height="35" rx="3"/><text x="339.6" y="1137.3"><tspan class="lb">Solids Residue</tspan><tspan class="vl" x="339.6" y="1156.3">4.46</tspan></text></g>
<g id="C-ftwater"><rect class="gy" x="318" y="1196" width="15" height="10.4"/><rect class="bx" x="335.6" y="1182" width="126.3" height="35" rx="3"/><text x="339.6" y="1194"><tspan class="lb">FT Water Residue</tspan><tspan class="vl" x="339.6" y="1213">6.24</tspan></text></g>
<g id="C-ftnloss"><rect class="gy" x="318" y="1254" width="15" height="20"/><rect class="bx" x="335.6" y="1245" width="74.7" height="35" rx="3"/><text x="339.6" y="1257"><tspan class="lb">FT N Loss</tspan><tspan class="vl" x="339.6" y="1276">12.05</tspan></text></g>
<g id="C-nh4ft"><rect class="cy" x="421" y="894.3" width="15" height="2.4"/><rect class="bx" x="366.2" y="876.7" width="141.6" height="35" rx="3"/><text class="m" x="437" y="888.7"><tspan class="lb">NH4-N (FT effluent)</tspan><tspan class="vl" x="437" y="907.7">1.45</tspan></text></g>
<g id="C-no2ft"><rect class="bl" x="421" y="957" width="15" height="0.8"/><rect class="bx" x="356.8" y="940.7" width="141.6" height="35" rx="3"/><text class="m" x="427.6" y="952.7"><tspan class="lb">NO2-N (FT effluent)</tspan><tspan class="vl" x="427.6" y="971.7">0.01</tspan></text></g>
<g id="C-fish"><rect class="pk" x="322.5" y="900.7" width="15" height="52.5"/><rect class="bx" x="341" y="904.5" width="38.6" height="35" rx="3"/><text x="345" y="916.5"><tspan class="lb">Fish</tspan><tspan class="vl" x="345" y="935.5">31.6</tspan></text></g>
<g id="C-no3ft"><rect class="or" x="421" y="995.3" width="15" height="30.4"/><rect class="bx" x="359.8" y="991.7" width="141.6" height="35" rx="3"/><text class="m" x="430.6" y="1003.7"><tspan class="lb">NO3-N (FT effluent)</tspan><tspan class="vl" x="430.6" y="1022.7">18.3</tspan></text></g>
<g id="C-solft"><rect class="ol" x="421" y="1076" width="15" height="43"/><rect class="bx" x="361.9" y="1078.3" width="134.2" height="35" rx="3"/><text class="m" x="429" y="1090.3"><tspan class="lb">Solids (FT effluent)</tspan><tspan class="vl" x="429" y="1109.3">25.93</tspan></text></g>
<g id="C-rfs"><rect class="gn" x="522.5" y="1016.7" width="15" height="75.8"/><rect class="bx" x="505.8" y="1035.3" width="49.4" height="35" rx="3"/><text class="m" x="530.5" y="1047.3"><tspan class="lb">RFS</tspan><tspan class="vl" x="530.5" y="1066.3">45.69</tspan></text></g>
<g id="C-rfseff"><rect class="gn" x="626" y="1017.5" width="15" height="54.3"/><rect class="bx" x="586.7" y="1026" width="94.6" height="35" rx="3"/><text class="m" x="634" y="1038"><tspan class="lb">RFS Effluent</tspan><tspan class="vl" x="634" y="1057">32.7</tspan></text></g>
<g id="C-rfsdis"><rect class="gn" x="626" y="1131.7" width="15" height="13.1"/><rect class="bx" x="643.6" y="1120" width="104.2" height="35" rx="3"/><text x="647.6" y="1132"><tspan class="lb">RFS Discharge</tspan><tspan class="vl" x="647.6" y="1151">7.9</tspan></text></g>
<g id="C-rfsnloss"><rect class="gn" x="626" y="1192.3" width="15" height="7.4"/><rect class="bx" x="643.6" y="1177.7" width="83.8" height="35" rx="3"/><text x="647.6" y="1189.7"><tspan class="lb">RFS N Loss</tspan><tspan class="vl" x="647.6" y="1208.7">4.46</tspan></text></g>
<g id="C-rfswater"><rect class="gn" x="626" y="1247.7" width="15" height="1.1"/><rect class="bx" x="643.6" y="1229.3" width="135.5" height="35" rx="3"/><text x="647.6" y="1241.3"><tspan class="lb">RFS Water Residue</tspan><tspan class="vl" x="647.6" y="1260.3">0.63</tspan></text></g>
<g id="C-nh4rfs"><rect class="cy" x="727.5" y="951.9" width="15" height="2.4"/><rect class="bx" x="660" y="934.3" width="150.8" height="35" rx="3"/><text class="m" x="735.4" y="946.3"><tspan class="lb">NH4-N (RFS effluent)</tspan><tspan class="vl" x="735.4" y="965.3">1.41</tspan></text></g>
<g id="C-no3rfs"><rect class="or" x="727.5" y="992.5" width="15" height="20"/><rect class="bx" x="660" y="983.7" width="150.8" height="35" rx="3"/><text class="m" x="735.4" y="995.7"><tspan class="lb">NO3-N (RFS effluent)</tspan><tspan class="vl" x="735.4" y="1014.7">12.04</tspan></text></g>
<g id="C-solrfs"><rect class="ol" x="727.5" y="1063.9" width="15" height="31.9"/><rect class="bx" x="663.4" y="1061" width="143.3" height="35" rx="3"/><text class="m" x="735" y="1073"><tspan class="lb">Solids (RFS effluent)</tspan><tspan class="vl" x="735" y="1092">19.24</tspan></text></g>
<g id="C-hydro"><rect class="rd" x="832" y="1020" width="15" height="54.3"/><rect class="bx" x="793.3" y="1028.7" width="92.5" height="35" rx="3"/><text class="m" x="839.5" y="1040.7"><tspan class="lb">Hydroponics</tspan><tspan class="vl" x="839.5" y="1059.7">32.69</tspan></text></g>
<g id="C-hpeff"><rect class="pk" x="933" y="968.6" width="15" height="14.4"/><rect class="bx" x="896.5" y="957" width="87.1" height="35" rx="3"/><text class="m" x="940" y="969"><tspan class="lb">HP Effluent</tspan><tspan class="vl" x="940" y="988">8.66</tspan></text></g>
<g id="C-stem"><rect class="pu" x="933" y="1059.3" width="15" height="7.4"/><rect class="bx" x="950.7" y="1044.3" width="103.1" height="35" rx="3"/><text x="954.7" y="1056.3"><tspan class="lb">Stem&amp;Leaves</tspan><tspan class="vl" x="954.7" y="1075.3">4.49</tspan></text></g>
<g id="C-fruit"><rect class="br" x="933" y="1106.7" width="15" height="3.8"/><rect class="bx" x="952.8" y="1089.3" width="41.3" height="35" rx="3"/><text x="956.8" y="1101.3"><tspan class="lb">Fruit</tspan><tspan class="vl" x="956.8" y="1120.3">2.32</tspan></text></g>
<g id="C-sludge"><rect class="pk" x="933" y="1150" width="15" height="2.5"/><rect class="bx" x="950.7" y="1132" width="75.9" height="35" rx="3"/><text x="954.7" y="1144"><tspan class="lb">HP Sludge</tspan><tspan class="vl" x="954.7" y="1163">1.48</tspan></text></g>
<g id="C-hpwater"><rect class="pk" x="933" y="1190" width="15" height="0.8"/><rect class="bx" x="956" y="1172" width="128" height="35" rx="3"/><text x="960" y="1184"><tspan class="lb">HP Water Residue</tspan><tspan class="vl" x="960" y="1203">0.3</tspan></text></g>
<g id="C-hpnloss"><rect class="pk" x="933" y="1232.7" width="15" height="25.6"/><rect class="bx" x="952.8" y="1226.7" width="76.3" height="35" rx="3"/><text x="956.8" y="1238.7"><tspan class="lb">HP N Loss</tspan><tspan class="vl" x="956.8" y="1257.7">15.45</tspan></text></g>
<g id="C-no3hp"><rect class="or" x="1035" y="910.7" width="15" height="8.4"/><rect class="bx" x="1053.4" y="896" width="141.3" height="35" rx="3"/><text x="1057.4" y="908"><tspan class="lb">NO3-N (HP effluent)</tspan><tspan class="vl" x="1057.4" y="927">5.06</tspan></text></g>
<g id="C-nh4hp"><rect class="cy" x="1035" y="966.4" width="15" height="0.8"/><rect class="bx" x="1053.4" y="948.3" width="141.3" height="35" rx="3"/><text x="1057.4" y="960.3"><tspan class="lb">NH4-N (HP effluent)</tspan><tspan class="vl" x="1057.4" y="979.3">0.17</tspan></text></g>
<g id="C-no2hp"><rect class="bl" x="1035" y="1014.2" width="15" height="0.6"/><rect class="bx" x="1053.4" y="996" width="141.3" height="35" rx="3"/><text x="1057.4" y="1008"><tspan class="lb">NO2-N (HP effluent)</tspan><tspan class="vl" x="1057.4" y="1027">0.23</tspan></text></g>
<g id="C-solhp"><rect class="ol" x="1035" y="1061.7" width="15" height="5.3"/><rect class="bx" x="1053.4" y="1046" width="133.8" height="35" rx="3"/><text x="1057.4" y="1058"><tspan class="lb">Solids (HP effluent)</tspan><tspan class="vl" x="1057.4" y="1077">3.2</tspan></text></g>
</g>

<!-- ================= PANEL D ================= -->
<g id="panelD">
<text class="pl" x="73" y="1323">(D)</text>
<g id="D-links" class="links">
<path class="br" d="M133,1405H215V1573.4H133Z"/>
<path class="pk" d="M230,1405C276.3,1405 276.3,1311.7 322.5,1311.7L322.5,1364.3C276.3,1364.3 276.3,1457.6 230,1457.6Z"/>
<path class="pk" d="M230,1457.6H318V1507.3H230Z"/>
<path class="pk" d="M230,1507.3C274,1507.3 274,1552.3 318,1552.3L318,1560.2C274,1560.2 274,1515.2 230,1515.2Z"/>
<path class="pk" d="M230,1525.3C274,1525.3 274,1643.5 318,1643.5L318,1691.6C274,1691.6 274,1573.4 230,1573.4Z"/>
<path class="pk" d="M230,1515.2C274.5,1515.2 274.5,1591 319,1591L319,1601.1C274.5,1601.1 274.5,1525.3 230,1525.3Z"/>
<path class="gy" d="M333,1457.6C376,1457.6 376,1392.7 419,1392.7L419,1393.3C376,1393.3 376,1458.2 333,1458.2Z"/>
<path class="gy" d="M333,1457.9C376,1457.9 376,1438.8 419,1438.8L419,1464.2C376,1464.2 376,1483.3 333,1483.3Z"/>
<path class="gy" d="M333,1483.3C376,1483.3 376,1505 419,1505L419,1528.9C376,1528.9 376,1507.2 333,1507.2Z"/>
<path class="cy" d="M434,1392.7C479.5,1392.7 479.5,1459 525,1459L525,1459.6C479.5,1459.6 479.5,1393.3 434,1393.3Z"/>
<path class="bl" d="M434,1438.8C479.5,1438.8 479.5,1459.3 525,1459.3L525,1484.7C479.5,1484.7 479.5,1464.2 434,1464.2Z"/>
<path class="ol" d="M434,1505C479.5,1505 479.5,1484.7 525,1484.7L525,1508.6C479.5,1508.6 479.5,1528.9 434,1528.9Z"/>
<path class="or" d="M540,1459H625V1491.1H540Z"/>
<path class="or" d="M540,1491.1C582.5,1491.1 582.5,1540 625,1540L625,1546.1C582.5,1546.1 582.5,1497.2 540,1497.2Z"/>
<path class="or" d="M540,1497.2C582.5,1497.2 582.5,1580.5 625,1580.5L625,1581.6C582.5,1581.6 582.5,1498.3 540,1498.3Z"/>
<path class="or" d="M540,1498.3C581.5,1498.3 581.5,1616 623,1616L623,1626.3C581.5,1626.3 581.5,1508.6 540,1508.6Z"/>
<path class="cy" d="M640,1459C683.3,1459 683.3,1397.7 726.5,1397.7L726.5,1398.3C683.3,1398.3 683.3,1459.6 640,1459.6Z"/>
<path class="bl" d="M640,1459.2C683.3,1459.2 683.3,1443 726.5,1443L726.5,1458.7C683.3,1458.7 683.3,1474.9 640,1474.9Z"/>
<path class="ol" d="M640,1474.9C683.3,1474.9 683.3,1496.7 726.5,1496.7L726.5,1512.9C683.3,1512.9 683.3,1491.1 640,1491.1Z"/>
<path class="gn" d="M741.5,1397.7C784.3,1397.7 784.3,1460.4 827,1460.4L827,1461C784.3,1461 784.3,1398.3 741.5,1398.3Z"/>
<path class="gn" d="M741.5,1443C784.3,1443 784.3,1460.6 827,1460.6L827,1476.3C784.3,1476.3 784.3,1458.7 741.5,1458.7Z"/>
<path class="gn" d="M741.5,1496.7C784.3,1496.7 784.3,1476.3 827,1476.3L827,1492.5C784.3,1492.5 784.3,1512.9 741.5,1512.9Z"/>
<path class="br" d="M842,1460.4C888,1460.4 888,1383.5 934,1383.5L934,1392.7C888,1392.7 888,1469.6 842,1469.6Z"/>
<path class="rd" d="M842,1469.6C888,1469.6 888,1450.7 934,1450.7L934,1458.4C888,1458.4 888,1477.3 842,1477.3Z"/>
<path class="pu" d="M842,1477.3C888,1477.3 888,1490.7 934,1490.7L934,1495.3C888,1495.3 888,1481.9 842,1481.9Z"/>
<path class="br" d="M842,1481.9C888,1481.9 888,1531.7 934,1531.7L934,1534.1C888,1534.1 888,1484.3 842,1484.3Z"/>
<path class="br" d="M842,1484.3C888,1484.3 888,1570.7 934,1570.7L934,1571.4C888,1571.4 888,1485 842,1485Z"/>
<path class="br" d="M842,1485C888,1485 888,1608.3 934,1608.3L934,1616.5C888,1616.5 888,1493.2 842,1493.2Z"/>
<path class="cy" d="M949,1383.5C992,1383.5 992,1348 1035,1348L1035,1348.7C992,1348.7 992,1384.2 949,1384.2Z"/>
<path class="bl" d="M949,1384.2C992,1384.2 992,1383.3 1035,1383.3L1035,1389.6C992,1389.6 992,1390.5 949,1390.5Z"/>
<path class="ol" d="M949,1390.5C992,1390.5 992,1419 1035,1419L1035,1421.1C992,1421.1 992,1392.6 949,1392.6Z"/>
</g>
<g id="D-feed"><rect class="br" x="118" y="1405" width="15" height="168.4"/><rect class="bx" x="76.6" y="1470" width="38.8" height="35" rx="3"/><text class="e" x="111.4" y="1482"><tspan class="lb">Feed</tspan><tspan class="vl" x="111.4" y="1501">100</tspan></text></g>
<g id="D-fishtank"><rect class="pk" x="215" y="1405" width="15" height="168.4"/><rect class="bx" x="184.8" y="1471" width="75.4" height="35" rx="3"/><text class="m" x="222.5" y="1483"><tspan class="lb">Fish Tank</tspan><tspan class="vl" x="222.5" y="1502">100.04</tspan></text></g>
<g id="D-fish"><rect class="pk" x="322.5" y="1311.7" width="15" height="52.6"/><rect class="bx" x="341" y="1319.3" width="47.4" height="35" rx="3"/><text x="345" y="1331.3"><tspan class="lb">Fish</tspan><tspan class="vl" x="345" y="1350.3">31.27</tspan></text></g>
<g id="D-fteff"><rect class="gy" x="318" y="1457.6" width="15" height="49.7"/><rect class="bx" x="282.8" y="1463.3" width="84.4" height="35" rx="3"/><text class="m" x="325" y="1475.3"><tspan class="lb">FT Effluent</tspan><tspan class="vl" x="325" y="1494.3">29.5</tspan></text></g>
<g id="D-solres"><rect class="ol" x="318" y="1552.3" width="15" height="7.9"/><rect class="bx" x="335.6" y="1537.7" width="100.9" height="35" rx="3"/><text x="339.6" y="1549.7"><tspan class="lb">Solids Residue</tspan><tspan class="vl" x="339.6" y="1568.7">4.7</tspan></text></g>
<g id="D-ftwater"><rect class="gy" x="319" y="1591" width="15" height="10.1"/><rect class="bx" x="337.2" y="1577.7" width="126.3" height="35" rx="3"/><text x="341.2" y="1589.7"><tspan class="lb">FT Water Residue</tspan><tspan class="vl" x="341.2" y="1608.7">6</tspan></text></g>
<g id="D-ftnloss"><rect class="gy" x="318" y="1643.5" width="15" height="48.1"/><rect class="bx" x="335.6" y="1649.3" width="74.7" height="35" rx="3"/><text x="339.6" y="1661.3"><tspan class="lb">FT N Loss</tspan><tspan class="vl" x="339.6" y="1680.3">28.57</tspan></text></g>
<g id="D-nh4ft"><rect class="cy" x="419" y="1392.7" width="15" height="0.6"/><rect class="bx" x="363.2" y="1374.3" width="141.6" height="35" rx="3"/><text class="m" x="434" y="1386.3"><tspan class="lb">NH4-N (FT effluent)</tspan><tspan class="vl" x="434" y="1405.3">0.17</tspan></text></g>
<g id="D-no3ft"><rect class="bl" x="419" y="1438.8" width="15" height="25.4"/><rect class="bx" x="358.6" y="1432.7" width="141.6" height="35" rx="3"/><text class="m" x="429.4" y="1444.7"><tspan class="lb">NO3-N (FT effluent)</tspan><tspan class="vl" x="429.4" y="1463.7">15.11</tspan></text></g>
<g id="D-solft"><rect class="ol" x="419" y="1505" width="15" height="23.9"/><rect class="bx" x="358.9" y="1498.3" width="134.2" height="35" rx="3"/><text class="m" x="426" y="1510.3"><tspan class="lb">Solids (FT effluent)</tspan><tspan class="vl" x="426" y="1529.3">14.18</tspan></text></g>
<g id="D-rfs"><rect class="or" x="525" y="1459" width="15" height="49.6"/><rect class="bx" x="508.3" y="1465.3" width="49.4" height="35" rx="3"/><text class="m" x="533" y="1477.3"><tspan class="lb">RFS</tspan><tspan class="vl" x="533" y="1496.3">29.46</tspan></text></g>
<g id="D-rfseff"><rect class="or" x="625" y="1459" width="15" height="32.1"/><rect class="bx" x="586.7" y="1457.7" width="94.6" height="35" rx="3"/><text class="m" x="634" y="1469.7"><tspan class="lb">RFS Effluent</tspan><tspan class="vl" x="634" y="1488.7">19.09</tspan></text></g>
<g id="D-rfsdis"><rect class="or" x="625" y="1540" width="15" height="6.1"/><rect class="bx" x="643.6" y="1524.3" width="104.2" height="35" rx="3"/><text x="647.6" y="1536.3"><tspan class="lb">RFS Discharge</tspan><tspan class="vl" x="647.6" y="1555.3">3.6</tspan></text></g>
<g id="D-rfswater"><rect class="or" x="625" y="1580.5" width="15" height="1.1"/><rect class="bx" x="641.5" y="1562" width="135.5" height="35" rx="3"/><text x="645.5" y="1574"><tspan class="lb">RFS Water Residue</tspan><tspan class="vl" x="645.5" y="1593">0.65</tspan></text></g>
<g id="D-rfsnloss"><rect class="or" x="623" y="1616" width="15" height="10.3"/><rect class="bx" x="641.5" y="1602" width="83.8" height="35" rx="3"/><text x="645.5" y="1614"><tspan class="lb">RFS N Loss</tspan><tspan class="vl" x="645.5" y="1633">6.12</tspan></text></g>
<g id="D-nh4rfs"><rect class="cy" x="726.5" y="1397.7" width="15" height="0.6"/><rect class="bx" x="661.1" y="1379.3" width="150.8" height="35" rx="3"/><text class="m" x="736.5" y="1391.3"><tspan class="lb">NH4-N (RFS effluent)</tspan><tspan class="vl" x="736.5" y="1410.3">0.14</tspan></text></g>
<g id="D-no3rfs"><rect class="bl" x="726.5" y="1443" width="15" height="15.7"/><rect class="bx" x="658.1" y="1432" width="150.8" height="35" rx="3"/><text class="m" x="733.5" y="1444"><tspan class="lb">NO3-N (RFS effluent)</tspan><tspan class="vl" x="733.5" y="1463">9.35</tspan></text></g>
<g id="D-solrfs"><rect class="ol" x="726.5" y="1496.7" width="15" height="16.2"/><rect class="bx" x="660.4" y="1486" width="143.3" height="35" rx="3"/><text class="m" x="732" y="1498"><tspan class="lb">Solids (RFS effluent)</tspan><tspan class="vl" x="732" y="1517">9.6</tspan></text></g>
<g id="D-hydro"><rect class="gn" x="827" y="1460.4" width="15" height="32.8"/><rect class="bx" x="788.6" y="1457.7" width="92.5" height="35" rx="3"/><text class="m" x="834.8" y="1469.7"><tspan class="lb">Hydroponics</tspan><tspan class="vl" x="834.8" y="1488.7">19.09</tspan></text></g>
<g id="D-hpeff"><rect class="br" x="934" y="1383.5" width="15" height="9.2"/><rect class="bx" x="898.5" y="1369.3" width="87.1" height="35" rx="3"/><text class="m" x="942" y="1381.3"><tspan class="lb">HP Effluent</tspan><tspan class="vl" x="942" y="1400.3">5.44</tspan></text></g>
<g id="D-stem"><rect class="rd" x="934" y="1450.7" width="15" height="7.7"/><rect class="bx" x="952" y="1436" width="103.1" height="35" rx="3"/><text x="956" y="1448"><tspan class="lb">Stem&amp;Leaves</tspan><tspan class="vl" x="956" y="1467">4.6</tspan></text></g>
<g id="D-fruit"><rect class="pu" x="934" y="1490.7" width="15" height="4.6"/><rect class="bx" x="952.8" y="1473.7" width="41.3" height="35" rx="3"/><text x="956.8" y="1485.7"><tspan class="lb">Fruit</tspan><tspan class="vl" x="956.8" y="1504.7">2.75</tspan></text></g>
<g id="D-sludge"><rect class="br" x="934" y="1531.7" width="15" height="2.4"/><rect class="bx" x="951" y="1514.3" width="75.9" height="35" rx="3"/><text x="955" y="1526.3"><tspan class="lb">HP Sludge</tspan><tspan class="vl" x="955" y="1545.3">1.4</tspan></text></g>
<g id="D-hpwater"><rect class="br" x="934" y="1570.7" width="15" height="0.7"/><rect class="bx" x="956" y="1552" width="128" height="35" rx="3"/><text x="960" y="1564"><tspan class="lb">HP Water Residue</tspan><tspan class="vl" x="960" y="1583">0.4</tspan></text></g>
<g id="D-hpnloss"><rect class="br" x="934" y="1608.3" width="15" height="8.2"/><rect class="bx" x="954" y="1593.3" width="76.3" height="35" rx="3"/><text x="958" y="1605.3"><tspan class="lb">HP N Loss</tspan><tspan class="vl" x="958" y="1624.3">4.89</tspan></text></g>
<g id="D-nh4hp"><rect class="cy" x="1035" y="1348" width="15" height="0.7"/><rect class="bx" x="1053.4" y="1329.3" width="141.3" height="35" rx="3"/><text x="1057.4" y="1341.3"><tspan class="lb">NH4-N (HP effluent)</tspan><tspan class="vl" x="1057.4" y="1360.3">0.42</tspan></text></g>
<g id="D-no3hp"><rect class="bl" x="1035" y="1383.3" width="15" height="6.3"/><rect class="bx" x="1053.4" y="1367.7" width="141.3" height="35" rx="3"/><text x="1057.4" y="1379.7"><tspan class="lb">NO3-N (HP effluent)</tspan><tspan class="vl" x="1057.4" y="1398.7">3.77</tspan></text></g>
<g id="D-solhp"><rect class="ol" x="1035" y="1419" width="15" height="2.1"/><rect class="bx" x="1053.4" y="1404" width="133.8" height="35" rx="3"/><text x="1057.4" y="1416"><tspan class="lb">Solids (HP effluent)</tspan><tspan class="vl" x="1057.4" y="1435">1.25</tspan></text></g>
</g>
</svg>
